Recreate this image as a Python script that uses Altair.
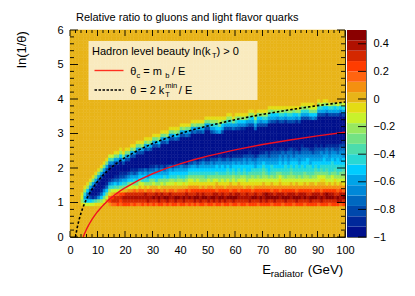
import altair as alt
import pandas as pd

alt.data_transformers.disable_max_rows()

# 20 bands from -1 to 0.5, bottom to top
BAND_COLORS = ["#00108c", "#00289a", "#0048ac", "#0068c0", "#0088d8", "#00a4e8",
               "#00ccff", "#28d8d4", "#4cdcac", "#74e284", "#98e860", "#c8f22c",
               "#e4dc14", "#e8b418", "#f49010", "#ff6410", "#ff3c00", "#d42800",
               "#b01000", "#8a0000"]
BAND_EDGES = [round(-1 + 0.075 * i, 3) for i in range(21)]

# each E column, read upward from ln(1/theta)=0.7: letters a..t are the bands, '.' is the gold band
COLUMNS = [
 ("",0,""),("",0,""),("",0,""),("",0,""),
 ("..mklm",0,""),("..lhfhkm",0,""),("..lgddgkm",0,""),("..lgcacfjm",0,""),
 ("..lhbaacfjm",0,""),("..micaaacfjm",0,""),("..mjebaaacfjm",0,""),("..mkgdbaaacfjm",0,""),
 ("...ljgebaaacfjm",0,""),("...oljgdbaaacfjm",0,""),("..oqpmkhebaaabeil",0,""),("..prq.lhfcaaabeil",0,""),
 ("..prroligdbaaacfjm",0,""),("..qrrplifdb",3,"cfjm"),("..pqrqmjgecb",3,"dgkm"),("..qrsqnjhfcb",2,"cfjm"),
 ("..qrsrnkhfdb",3,"cfjm"),("..qrsroljgec",3,"cfjm"),("..prsrolkgfdb",3,"cfjm"),("..qrsrpmjhfcb",3,"cfkm"),
 ("..prsroljgfdb",4,"cfjm"),("..prsrpnljgfc",4,"cfjm"),("..qrsrpmlhgec",4,"cfkm"),("..prssonkhgfd",5,"cfjm"),
 ("..qssrpmkhfec",5,"dgkm"),("..prsrpnkjgfdb",4,"cfjm"),("..qrtronljgfdb",5,"cfjm"),("..prsspnkhgfec",5,"cfjm"),
 ("..qstrpmkjgfdb",5,"dgkm"),("..qrssonljgfec",6,"cfjm"),("..prtrpnkjhfdb",6,"cfjm"),("..qstronljgfec",6,"dfkm"),
 ("..prssp.lkhgfd",7,"cfjm"),("..qrsrpnlkhgec",7,"cfjm"),("..qstronmjhgfdb",6,"dgkm"),("..prtrp.lkigfd",7,"cfjm"),
 ("..qrsrpnlkhgfeb",7,"cfjm"),("..qstrp.mjhgfdb",7,"cfkm"),("..prssqnlkigfd",8,"dfjm"),("..qrtrpomljhgec",7,"cfjm"),
 ("..prsrqomljhgfc",8,"cfjm"),("..qstrqomkjhgfdb",7,"dfkm"),("..prtsqomljhgec",8,"cfjm"),("..qssrq.mkjhgfdb",7,"cfjm"),
 ("..qrtsqomkjhgfec",7,"dfjm"),("..prtrqnmkihgfdb",8,"cfjm"),("..qssrqomljhgfdb",8,"cfjm"),("..qrtrqomkjhgfec",7,"cfhkm"),
 ("..pstsqnmljhgfdc",7,"dfhkm"),("..qrssponljiggec",7,"eghkm"),("..qstrqomkjhgfedb",6,"fgjlm"),("..prtsqomljhggec",7,"cfgkm"),
 ("..qssrqnmkjhgfec",8,"cfjm"),("..qrtrqomljihgedb",7,"cfhkm"),("..prtsponkjhgfec",8,"cfhkm"),("..qstrqomlkihgfdb",7,"dfjm"),
 ("..qrtsqomkjhggedb",7,"cfhkm"),("..prssponljihgfdb",7,"cegjm"),("..qrsrqomlkhggedb",7,"begkm"),("..qrsrq.mlkihgfec",7,"begkm"),
 ("..prssqomkjhggedc",8,"dfjm"),("..qssrqomljiggfecb",7,"cfhkm"),("..qrtrpnmlkihgfdc",8,"cfgkm"),("..qrtsqomljihfedb",7,"dfhkm"),
 ("..prsrqomlkihgfec",8,"cfgjm"),("..qstrqomljihgfedb",7,"cegkm"),("..qrssqonlkjihgedb",7,"cfhkm"),("..qsttqomlkihgfedc",7,"cfhkm"),
 ("..qrtsqomljhggfecb",8,"dfhkm"),("..prtsponlkihhfedc",8,"cfgjm"),("..qstrqomljihgfedcb",7,"cfgkm"),("..qrtsqomlkjhgfedc",8,"begkm"),
 ("..qrssponmljhggfecb",7,"cfhkm"),("..prtsqomlkihgfeddb",7,"cfhkm"),("..qstrqomljihhgfec",8,"begjm"),("..qrtsqomlkihgfeddb",7,"cfhkm"),
 ("..qrssqonlkjihgfedc",7,"cfhkm"),("..prtsqomlkihggfdcb",7,"cfgjm"),("..qstrponljihhgfedb",7,"begkm"),("..qrtsqomlkihgfeec",8,"cfhkm"),
 ("..qrssqomljihhgfedcb",7,"cfhkm"),("..prtsqonlkjhggfedc",8,"cfhkm"),("..qrsrqomlkihhggedc",8,"cfhkm"),("..qstrqonljihhffedb",8,"dgjlm"),
 ("..qrtsponlkihggfecb",8,"egjlm"),("..qrtsqomlkjihgfedcb",7,"dgjl."),("..prssqonlljhggfedc",9,"cfhkm"),("..qstrponmljihgfeecb",8,"cfhl"),
 ("..qrssqonmljhhggfdc",9,"cfgkm"),("..qrttqomlkjihgffedb",8,"begkm"),("..prtsqonlkihhgfedcb",8,"cfhl"),("..qrtsqomlljhhhgfedb",8,"cfhk"),
 ("..qrsrqonmkjihgffecb",8,"cfgk"),("..qstrpomlkihhggfdcb",8,"cfhl"),("..psssqonlkjhhgffedc",8,"begk"),("..qrtspomlkjihggeedcb",7,"cfhl"),
]

E_DASH = [2, 2.2, 2.5, 2.8, 3, 3.5, 4, 4.5, 5, 6, 7, 8, 9, 10, 12, 14, 16, 18, 20, 25, 30, 35, 40, 45, 50, 60, 70, 80, 90, 100]
Y_DASH = [0, .095, .223, .336, .405, .56, .693, .811, .916, 1.099, 1.253, 1.386, 1.504, 1.609, 1.792, 1.946, 2.079, 2.197,
          2.303, 2.526, 2.708, 2.862, 2.996, 3.114, 3.219, 3.401, 3.555, 3.689, 3.807, 3.912]
E_RED = [4.8, 5, 5.3, 5.6, 6, 6.5, 7, 8, 9, 10, 12, 14, 16, 18, 20, 25, 30, 35, 40, 45, 50, 60, 70, 80, 90, 100]
Y_RED = [0, .041, .099, .154, .223, .303, .377, .511, .629, .734, .916, 1.07, 1.204, 1.322, 1.427, 1.65, 1.833, 1.987,
         2.12, 2.238, 2.343, 2.526, 2.68, 2.813, 2.931, 3.037]

X_MAJOR = [0, 10, 20, 30, 40, 50, 60, 70, 80, 90, 100]
X_MINOR = [v for v in range(0, 101, 2) if v % 10]
Y_MAJOR = [0, 1, 2, 3, 4, 5, 6]
Y_MINOR = [v / 10 for v in range(0, 61, 2) if v % 10]
CB_TICKS = [-1, -0.8, -0.6, -0.4, -0.2, 0, 0.2, 0.4]

W, H = 275, 207
OX, OY = 70.5, 29.5
FONT = "Liberation Sans"

records = []
for i, (low, n, up) in enumerate(COLUMNS):
    s = low + "a" * n + up
    for r in range(60):
        k = r - 7
        ch = s[k] if 0 <= k < len(s) else "."
        lev = 13 if ch == "." else ord(ch) - 97
        records.append({"x": i, "x2": i + 1, "y": r / 10, "y2": (r + 1) / 10,
                        "v": round(-1 + 0.075 * (lev + 0.5), 4)})
cells = pd.DataFrame(records)

xs = alt.Scale(domain=[0, 100], nice=False, zero=False)
ys = alt.Scale(domain=[0, 6], nice=False, zero=False)
colors = alt.Scale(type="threshold", domain=BAND_EDGES[1:-1], range=BAND_COLORS)

XAXIS = alt.Axis(values=X_MAJOR, title=None, grid=False, ticks=False, domain=False,
                 labelFont=FONT, labelFontSize=11, labelColor="black", labelPadding=7,
                 labelFlush=False, labelOverlap=False)
YAXIS = alt.Axis(values=Y_MAJOR, title=None, grid=False, ticks=False, domain=False,
                 labelFont=FONT, labelFontSize=11, labelColor="black", labelPadding=7,
                 labelFlush=False, labelOverlap=False)
CBAXIS = alt.Axis(orient="right", values=CB_TICKS, format=".1~f", title=None, grid=False,
                  ticks=False, domain=False, labelFont=FONT, labelFontSize=11,
                  labelColor="black", labelPadding=7, labelAlign="left", labelOverlap=False,
                  labelFlush=False)

heat = alt.Chart(cells).mark_rect(strokeWidth=0.5).encode(
    x=alt.X("x:Q", scale=xs, axis=XAXIS),
    x2="x2:Q",
    y=alt.Y("y:Q", scale=ys, axis=YAXIS),
    y2="y2:Q",
    color=alt.Color("v:Q", scale=colors, legend=None),
    stroke=alt.Stroke("v:Q", scale=colors, legend=None),
)

dash = alt.Chart(pd.DataFrame({"E": E_DASH, "t": Y_DASH})).mark_line(
    color="black", strokeWidth=1.6, strokeDash=[2.5, 2], clip=True
).encode(x=alt.X("E:Q", scale=xs, axis=XAXIS), y=alt.Y("t:Q", scale=ys, axis=YAXIS), order="E:Q")
red = alt.Chart(pd.DataFrame({"E": E_RED, "t": Y_RED})).mark_line(
    color="#f01020", strokeWidth=1.4, clip=True
).encode(x=alt.X("E:Q", scale=xs, axis=XAXIS), y=alt.Y("t:Q", scale=ys, axis=YAXIS), order="E:Q")


def xrule(vals, y0, y1, w=0.9):
    return alt.Chart(pd.DataFrame({"v": vals})).mark_rule(color="black", strokeWidth=w).encode(
        x=alt.X("v:Q", scale=xs, axis=XAXIS), y=alt.value(y0), y2=alt.value(y1))


def yrule(vals, x0, x1, w=0.9):
    return alt.Chart(pd.DataFrame({"v": vals})).mark_rule(color="black", strokeWidth=w).encode(
        y=alt.Y("v:Q", scale=ys, axis=YAXIS), x=alt.value(x0), x2=alt.value(x1))


ticks = [
    xrule(X_MAJOR, H, H - 6), xrule(X_MINOR, H, H - 3),
    xrule(X_MAJOR, 0, 6), xrule(X_MINOR, 0, 3),
    yrule(Y_MAJOR, 0, 8), yrule(Y_MINOR, 0, 4),
    yrule(Y_MAJOR, W, W - 8), yrule(Y_MINOR, W, W - 4),
]


def label(s, x, y, size=10.5, **kw):
    return alt.Chart(pd.DataFrame({"s": [s]})).mark_text(
        font=FONT, fontSize=size, color="black", align=kw.pop("align", "left"), baseline=kw.pop("baseline", "alphabetic"), **kw
    ).encode(text="s:N", x=alt.value(x - OX), y=alt.value(y - OY))


legend_box = alt.Chart(pd.DataFrame({"a": [0]})).mark_rect(color="white", opacity=0.72).encode(
    x=alt.value(89 - OX), x2=alt.value(258 - OX), y=alt.value(40.5 - OY), y2=alt.value(99.5 - OY))
leg_red = alt.Chart(pd.DataFrame({"a": [0]})).mark_rule(color="#ff3020", strokeWidth=1.4).encode(
    x=alt.value(95 - OX), x2=alt.value(124 - OX), y=alt.value(70 - OY))
leg_dash = alt.Chart(pd.DataFrame({"a": [0]})).mark_rule(color="black", strokeWidth=1.4, strokeDash=[2.5, 1.5]).encode(
    x=alt.value(95 - OX), x2=alt.value(124 - OX), y=alt.value(89.5 - OY))

texts = [
    label("Relative ratio to gluons and light flavor quarks", 76.5, 20.5, 11),
    label("Hadron level beauty ln(k", 92.5, 54.5, 11),
    label("T", 212.5, 57.5, 7.5),
    label(") > 0", 217, 54.5, 11),
    label("θ", 130.7, 74.5, 11),
    label("c", 137, 77.5, 7.5),
    label("= m", 143.7, 74.5, 11),
    label("b", 165.7, 77.5, 7.5),
    label("/ E", 172.5, 74.5, 11),
    label("θ", 130.7, 93, 11),
    label("= 2 k", 140.7, 93, 11),
    label("T", 165.7, 96.5, 7.5),
    label("min", 165.7, 87.5, 7.5),
    label("/ E", 179.3, 93, 11),
    label("E", 262.7, 273.7, 13.3),
    label("radiator", 271.3, 276.7, 9.6),
    label("(GeV)", 308.3, 273.7, 13.3),
    label("ln(1/θ)", 22, 49, 13, angle=270, align="center", baseline="middle"),
]

main = alt.layer(heat, dash, red, legend_box, leg_red, leg_dash, *ticks, *texts).properties(
    width=W, height=H, view=alt.ViewBackground(stroke="black", strokeWidth=1, fill="white"))

bands = pd.DataFrame({"lo": BAND_EDGES[:-1], "hi": BAND_EDGES[1:],
                      "v": [round(-1 + 0.075 * (i + 0.5), 4) for i in range(20)]})
cys = alt.Scale(domain=[-1, 0.5], nice=False, zero=False)
bar = alt.Chart(bands).mark_rect(strokeWidth=0).encode(
    y=alt.Y("lo:Q", scale=cys, axis=CBAXIS),
    y2="hi:Q",
    color=alt.Color("v:Q", scale=colors, legend=None),
    x=alt.value(0), x2=alt.value(19),
)
bar_ticks = alt.Chart(pd.DataFrame({"v": CB_TICKS})).mark_rule(color="black", strokeWidth=0.9).encode(
    y=alt.Y("v:Q", scale=cys, axis=CBAXIS), x=alt.value(19), x2=alt.value(11))
cbar = alt.layer(bar, bar_ticks).properties(
    width=19, height=H, view=alt.ViewBackground(stroke="#666666", strokeWidth=1))

chart = alt.hconcat(main, cbar, spacing=2, bounds="flush").resolve_scale(color="independent", stroke="independent").properties(
    padding={"left": 7, "top": 3, "right": 0, "bottom": 0},
    background="white",
)

chart.save("out.html", embed_options={"renderer": "svg", "actions": False})
